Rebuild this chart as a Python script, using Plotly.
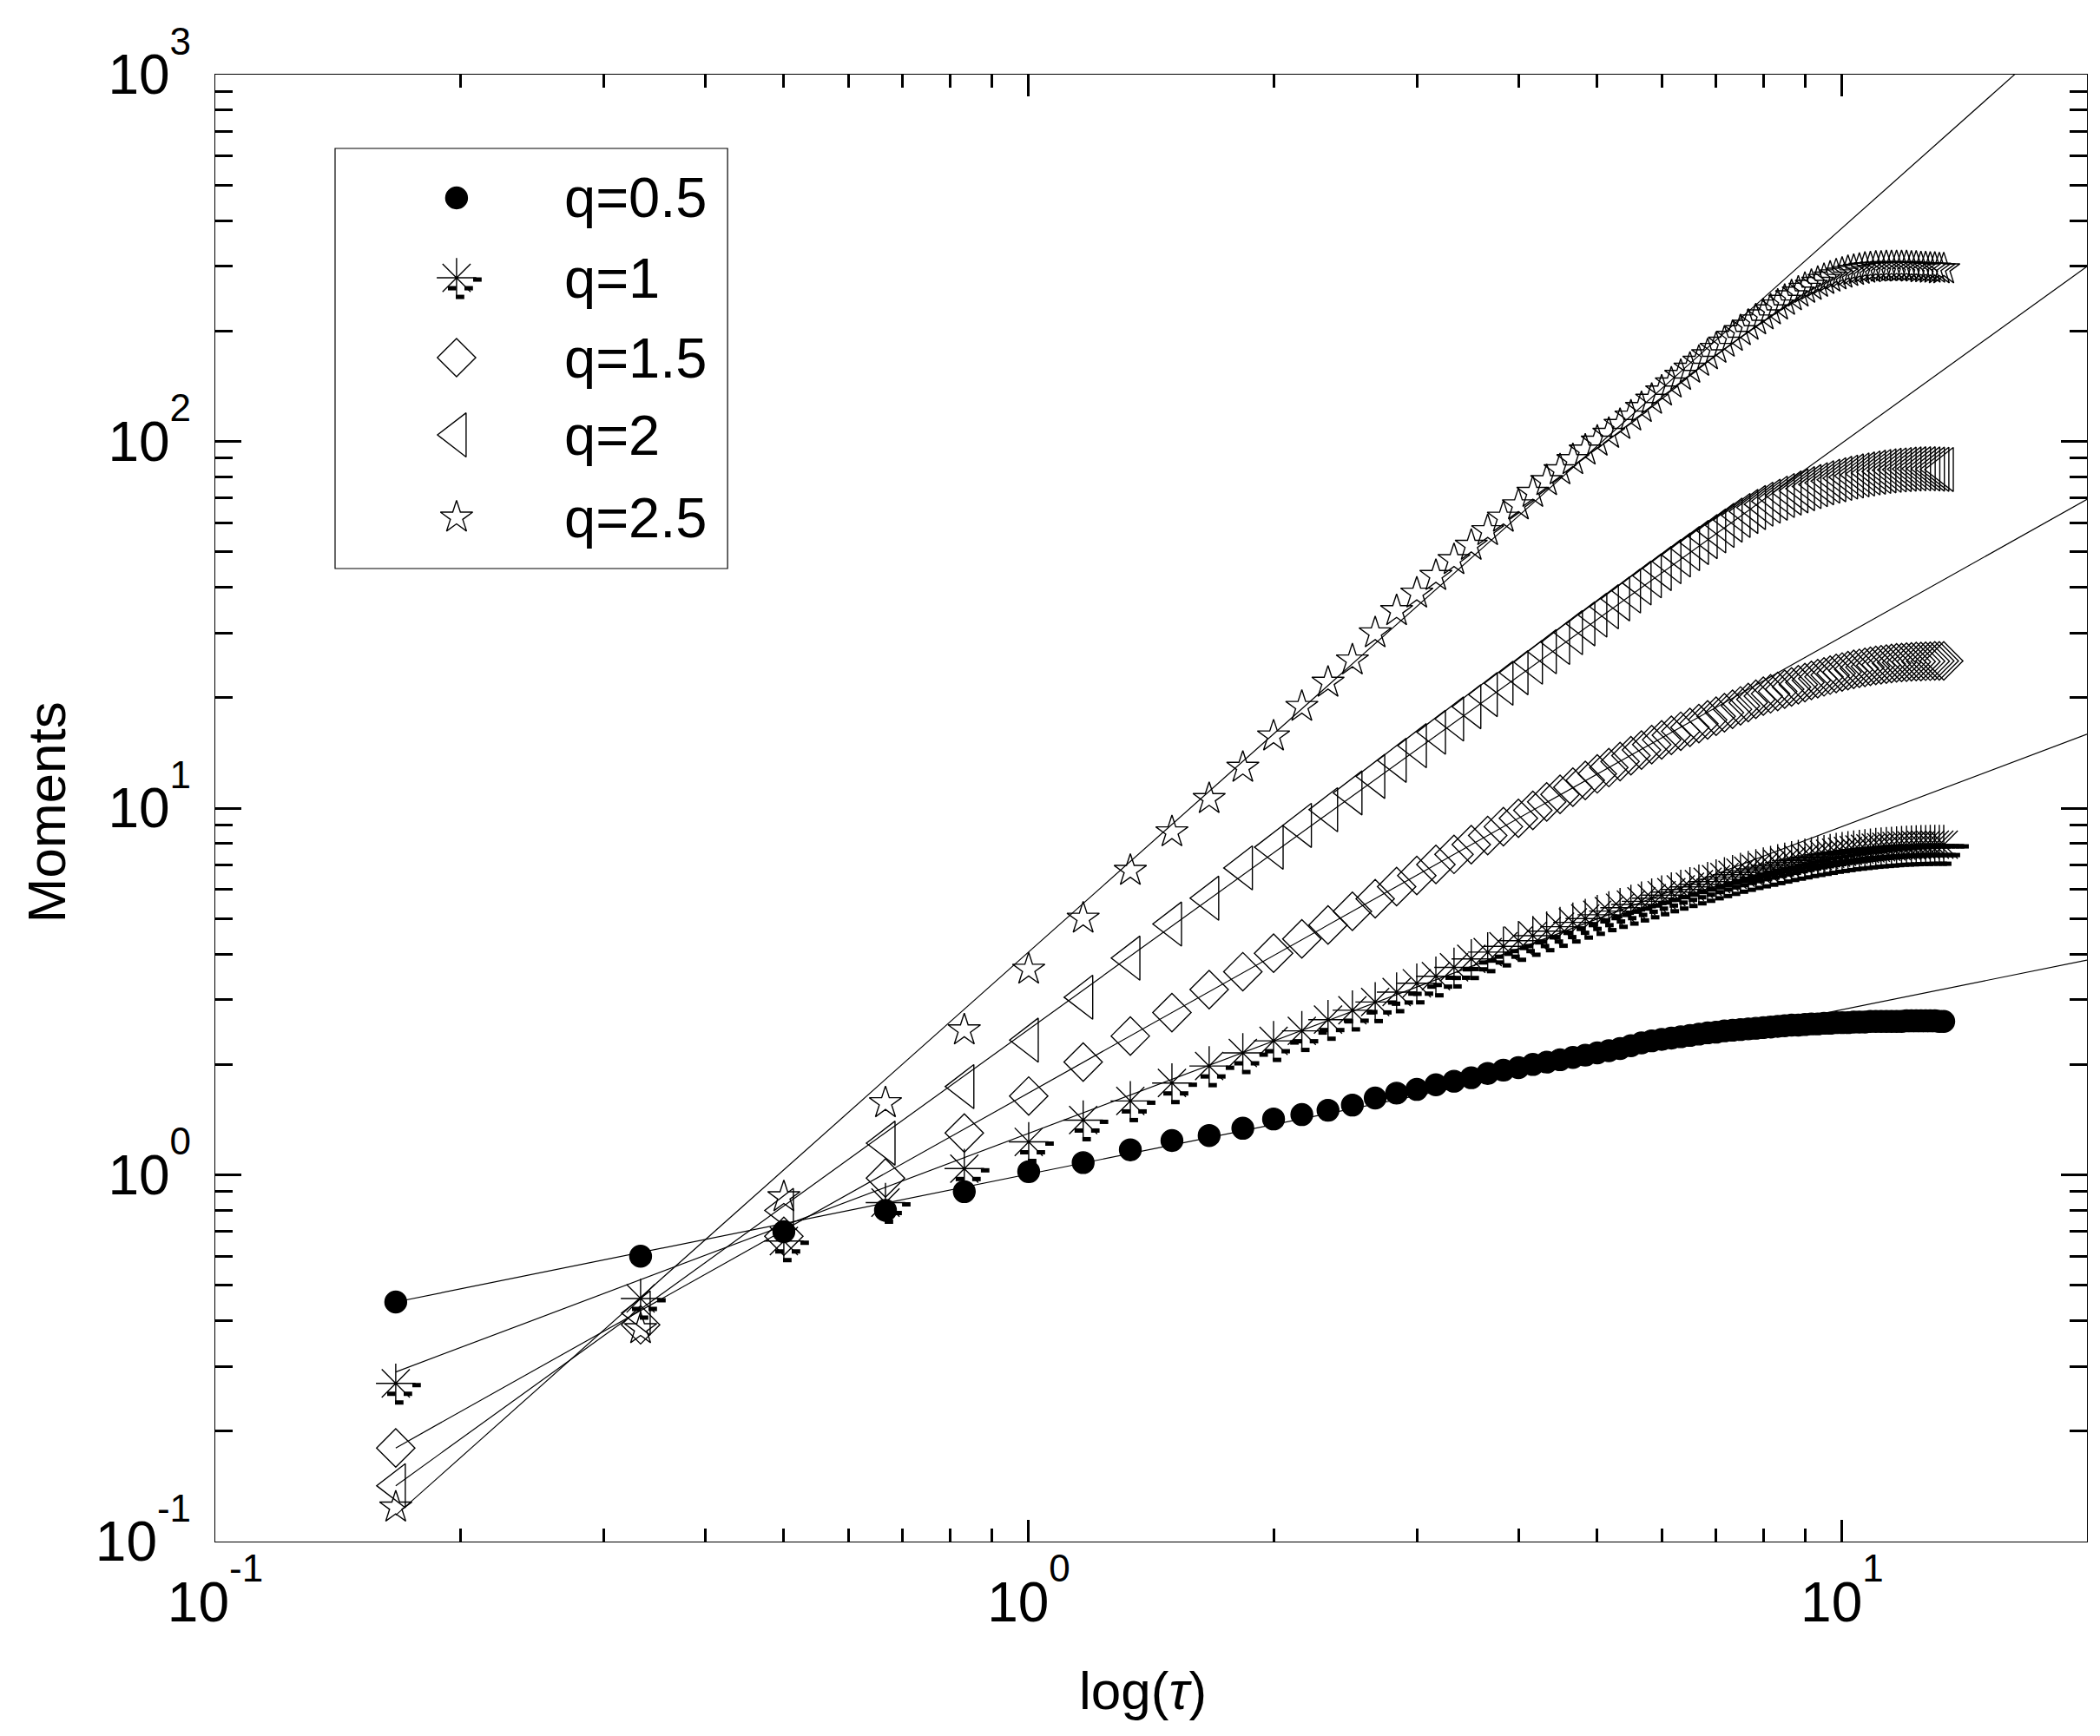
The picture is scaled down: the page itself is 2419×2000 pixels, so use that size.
import math
import plotly.graph_objects as go

# ---------------- data ----------------
lag_index = list(range(1, 81))            # lag number k (time step = 1/6)
tau = [k / 6 for k in lag_index]          # tau values on the x axis

m_q05 = [0.45, 0.60, 0.70, 0.80, 0.90, 1.02, 1.08, 1.17, 1.24, 1.28,
         1.34, 1.42, 1.46, 1.50, 1.55, 1.62, 1.67, 1.71, 1.76, 1.80,
         1.84, 1.89, 1.93, 1.96, 2.00, 2.03, 2.06, 2.09, 2.12, 2.15,
         2.18, 2.21, 2.25, 2.29, 2.32, 2.34, 2.36, 2.38, 2.40, 2.42,
         2.44, 2.45, 2.47, 2.48, 2.49, 2.50, 2.51, 2.52, 2.53, 2.54,
         2.55, 2.56, 2.56, 2.57, 2.58, 2.58, 2.59, 2.59, 2.60, 2.60,
         2.60, 2.61, 2.61, 2.61, 2.62, 2.62, 2.62, 2.62, 2.62, 2.62,
         2.62, 2.63, 2.63, 2.63, 2.63, 2.63, 2.63, 2.63, 2.62, 2.62]

m_q10 = [0.27, 0.46, 0.66, 0.84, 1.04, 1.23, 1.41, 1.59, 1.78, 1.98,
         2.15, 2.32, 2.47, 2.65, 2.81, 2.96, 3.15, 3.33, 3.48, 3.68,
         3.88, 4.05, 4.20, 4.35, 4.49, 4.62, 4.75, 4.88, 5.00, 5.12,
         5.24, 5.35, 5.46, 5.57, 5.68, 5.79, 5.90, 6.00, 6.10, 6.20,
         6.30, 6.40, 6.49, 6.58, 6.67, 6.75, 6.83, 6.90, 6.97, 7.04,
         7.11, 7.18, 7.24, 7.30, 7.36, 7.41, 7.46, 7.51, 7.56, 7.60,
         7.64, 7.68, 7.71, 7.74, 7.77, 7.80, 7.82, 7.84, 7.86, 7.88,
         7.90, 7.91, 7.92, 7.93, 7.94, 7.94, 7.95, 7.95, 7.95, 7.95]

m_q15 = [0.18, 0.39, 0.68, 0.98, 1.30, 1.64, 2.03, 2.39, 2.77, 3.20,
         3.58, 4.02, 4.40, 4.80, 5.23, 5.66, 6.11, 6.55, 7.02, 7.48,
         7.95, 8.42, 8.90, 9.38, 9.86, 10.4, 10.9, 11.4, 11.9, 12.4,
         12.9, 13.4, 13.9, 14.4, 14.9, 15.35, 15.8, 16.2, 16.6, 17.0,
         17.4, 17.8, 18.2, 18.6, 19.0, 19.4, 19.8, 20.2, 20.5, 20.8,
         21.1, 21.4, 21.7, 22.0, 22.3, 22.55, 22.8, 23.05, 23.3, 23.5,
         23.7, 23.9, 24.05, 24.2, 24.35, 24.5, 24.6, 24.7, 24.8, 24.9,
         24.95, 25.0, 25.05, 25.1, 25.1, 25.15, 25.15, 25.2, 25.2, 25.2]

m_q20 = [0.142, 0.42, 0.80, 1.22, 1.74, 2.33, 3.05, 3.90, 4.83, 5.68,
         6.87, 7.82, 8.97, 9.9, 11.0, 12.2, 13.5, 14.8, 16.1, 17.5,
         18.9, 20.4, 21.9, 23.4, 25.0, 26.7, 28.3, 30.1, 31.8, 33.6,
         35.4, 37.2, 39.1, 41.1, 43.0, 45.0, 47.0, 49.0, 51.0, 53.0,
         55.0, 57.0, 59.0, 61.0, 62.8, 64.4, 66.0, 67.4, 68.7, 70.0,
         71.2, 72.3, 73.3, 74.3, 75.3, 76.2, 77.1, 77.9, 78.6, 79.3,
         79.9, 80.5, 81.0, 81.5, 82.0, 82.4, 82.8, 83.1, 83.4, 83.6,
         83.8, 84.0, 84.1, 84.2, 84.2, 84.2, 84.1, 84.0, 83.9, 83.8]

m_q25 = [0.124, 0.38, 0.87, 1.57, 2.48, 3.63, 5.0, 6.75, 8.6, 10.6,
         12.9, 15.7, 18.9, 22.0, 25.3, 30.0, 34.5, 38.5, 43.0, 47.5,
         52.0, 57.0, 62.0, 67.0, 72.5, 78.0, 83.5, 89.0, 94.5, 100.0,
         105, 111, 117, 123.5, 130, 137, 144, 151, 158, 165,
         172, 179, 186, 193, 200, 207, 214, 221, 228, 235,
         242, 249, 255, 261, 266, 271, 276, 280, 284, 287,
         290, 292, 294, 296, 297, 298, 298, 299, 299, 299,
         299, 299, 298, 298, 297, 297, 296, 296, 295, 295]

# power-law fit lines (start / end values)
fit_tau = [1 / 6, 20]
fit_q05 = [0.45, 3.85]
fit_q10 = [0.29, 15.9]
fit_q15 = [0.18, 69.5]
fit_q20 = [0.142, 300]
fit_q25 = [0.118, 1500]

labels = ["q=0.5", "q=1", "q=1.5", "q=2", "q=2.5"]
series = [m_q05, m_q10, m_q15, m_q20, m_q25]
fits = [fit_q05, fit_q10, fit_q15, fit_q20, fit_q25]

# ---------------- styles ----------------
FONT = "Liberation Sans, Arial, Helvetica, sans-serif"
symbols = ["circle", "asterisk-open", "diamond-open", "triangle-left-open", "star-open"]
sizes = [25, 38, 34, 44, 28]

X_PX_PER_DEC = 2156 / (1 + math.log10(20))   # plot pixels per x decade
Y_PX_PER_DEC = 1690 / 4                       # plot pixels per y decade
# small dash "shadow" glyphs drawn with the q=1 asterisk symbol (pixel offsets dx, dy)
dash_offsets = [(24, 2), (-5, 12), (14, 12), (4, 22)]

fig = go.Figure()

for name, ys, fy in zip(labels, series, fits):
    fig.add_trace(go.Scatter(x=fit_tau, y=fy, mode="lines",
                             line=dict(color="black", width=1.2),
                             showlegend=False, hoverinfo="skip"))

for name, ys, sym, sz in zip(labels, series, symbols, sizes):
    fig.add_trace(go.Scatter(
        x=tau, y=ys, mode="markers", name=name, showlegend=False, opacity=1,
        marker=dict(symbol=sym, size=sz, color="black", opacity=1,
                    line=dict(color="black", width=1.4))))


def dash_trace(xs, ys, xaxis="x", yaxis="y"):
    dx_all, dy_all = [], []
    for xv, yv in zip(xs, ys):
        for dx, dy in dash_offsets:
            dx_all.append(xv * 10 ** (dx / X_PX_PER_DEC) if xaxis == "x" else xv + dx / 2156)
            dy_all.append(yv * 10 ** (-dy / Y_PX_PER_DEC) if yaxis == "y" else yv - dy / 1690)
    return go.Scatter(x=dx_all, y=dy_all, mode="markers", xaxis=xaxis, yaxis=yaxis,
                      showlegend=False, hoverinfo="skip",
                      marker=dict(symbol="line-ew", size=7, color="black",
                                  line=dict(color="black", width=5)))


fig.add_trace(dash_trace(tau, m_q10))

# ---------------- legend (drawn manually) ----------------
leg_x_sym = 0.1289
leg_x_txt = 0.1855
leg_rows = [0.9160, 0.8615, 0.8071, 0.7544, 0.6982]

fig.add_trace(go.Scatter(
    x=[leg_x_sym] * 5, y=leg_rows, mode="markers", xaxis="x2", yaxis="y2",
    showlegend=False, hoverinfo="skip", opacity=1,
    marker=dict(symbol=symbols, size=sizes, color="black", opacity=1,
                line=dict(color="black", width=1.4))))
fig.add_trace(dash_trace([leg_x_sym], [leg_rows[1]], xaxis="x2", yaxis="y2"))

fig.add_shape(type="rect", xref="paper", yref="paper", layer="below",
              x0=0.0640, x1=0.2737, y0=0.6633, y1=0.9497,
              line=dict(color="black", width=1.2), fillcolor="rgba(0,0,0,0)")

annotations = []
for lab, yy in zip(labels, leg_rows):
    annotations.append(dict(text=lab, x=leg_x_txt, y=yy, xref="paper", yref="paper",
                            xanchor="left", yanchor="middle", showarrow=False,
                            font=dict(family=FONT, size=65, color="black")))

annotations.append(dict(text="Moments", x=-0.0904, y=0.497, xref="paper", yref="paper",
                        textangle=-90, showarrow=False, xanchor="center", yanchor="middle",
                        font=dict(family=FONT, size=62, color="black")))
annotations.append(dict(text="log(<i>τ</i>)", x=0.4954, y=-0.1012, xref="paper", yref="paper",
                        showarrow=False, xanchor="center", yanchor="middle",
                        font=dict(family=FONT, size=62, color="black")))


def power_label(e):
    return "10<sup><sup><span style='font-size:44px'>%s</span></sup></sup>" % e


x_tickvals = [0.1, 1, 10]
x_ticktext = [power_label("-1"), power_label("0"), power_label("1")]
y_tickvals = [0.1, 1, 10, 100, 1000]
y_ticktext = [power_label("-1"), power_label("0"), power_label("1"),
              power_label("2"), power_label("3")]

axis_common = dict(type="log", showgrid=False, zeroline=False, showline=True,
                   linecolor="black", linewidth=1.2, mirror="allticks",
                   ticks="inside", tickcolor="black", tickwidth=3,
                   tickfont=dict(family=FONT, size=64, color="black"))

fig.update_layout(
    width=2419, height=2000,
    margin=dict(l=240, r=23, t=78, b=232),
    paper_bgcolor="white", plot_bgcolor="white",
    showlegend=False,
    xaxis=dict(**axis_common, range=[-1, math.log10(20)],
               tickmode="array", tickvals=x_tickvals, ticktext=x_ticktext,
               ticklen=25, ticklabelstandoff=14,
               minor=dict(ticks="inside", ticklen=15, tickwidth=3, tickcolor="black",
                          dtick="D1", showgrid=False)),
    yaxis=dict(**axis_common, range=[-1, 3],
               tickmode="array", tickvals=y_tickvals, ticktext=y_ticktext,
               ticklen=30, ticklabelstandoff=14,
               minor=dict(ticks="inside", ticklen=20, tickwidth=3, tickcolor="black",
                          dtick="D1", showgrid=False)),
    xaxis2=dict(overlaying="x", range=[0, 1], visible=False, anchor="y2"),
    yaxis2=dict(overlaying="y", range=[0, 1], visible=False, anchor="x2"),
    annotations=annotations,
)

fig.write_html("out.html")
